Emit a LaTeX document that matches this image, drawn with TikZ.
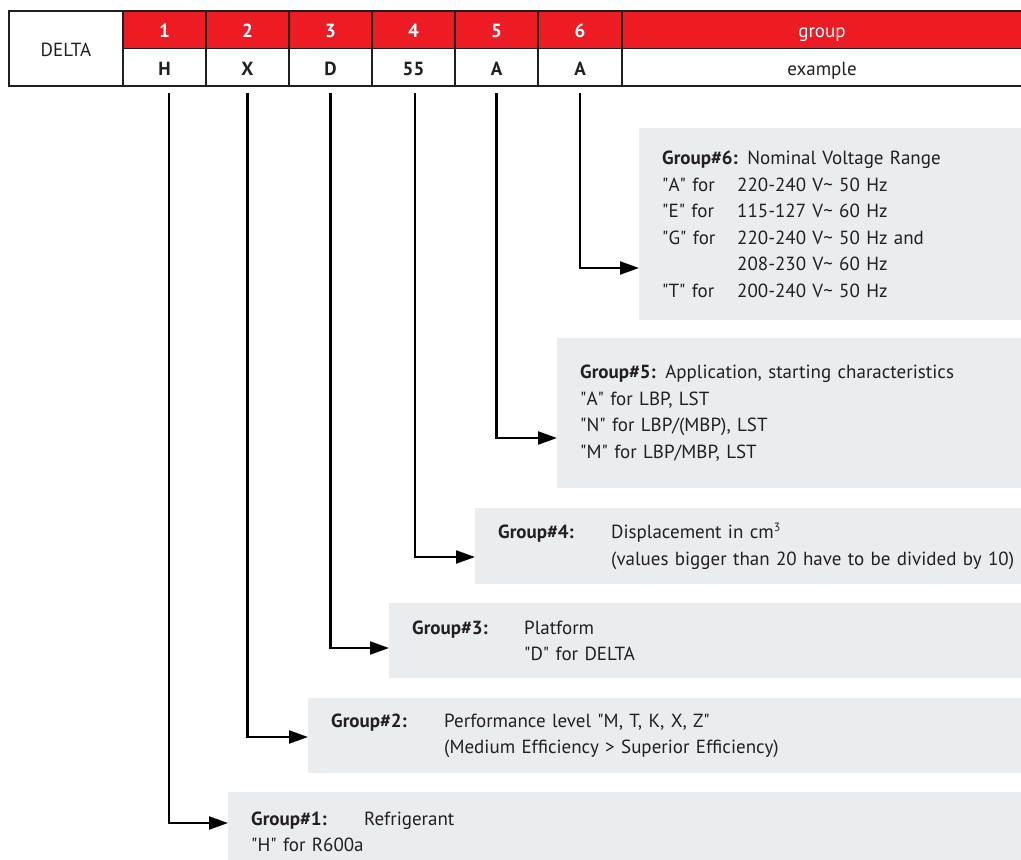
\documentclass[tikz,border=0pt]{standalone}
\usepackage{fontspec}
\setmainfont{PT Sans}
\usetikzlibrary{arrows.meta, positioning}
\definecolor{codered}{HTML}{ED1C24}
\definecolor{boxgray}{HTML}{E9EDF0}
\definecolor{ink}{HTML}{231F20}
\newcommand{\qt}[1]{\textquotedbl#1\textquotedbl}

\begin{document}
\begin{tikzpicture}[x=1pt, y=-1pt, >={Triangle[length=19pt, width=13pt]},
  txt/.style={font=\fontsize{19}{26.5}\selectfont, text=ink},
  cell/.style={txt, rectangle, draw=ink, line width=1.2pt, inner sep=0pt, outer sep=0pt, minimum width=83pt, minimum height=37.5pt, text height=16pt, text depth=0pt},
  numcell/.style={cell, fill=codered, text=white, font=\fontsize{19}{26.5}\selectfont\bfseries},
  codecell/.style={cell, font=\fontsize{19}{26.5}\selectfont\bfseries},
  groupbox/.style={txt, rectangle, fill=boxgray, anchor=north west, inner xsep=23pt, inner ysep=0pt, align=left, text width=760pt},
  conn/.style={->, line width=2.2pt, draw=black}]

\clip (0,0) rectangle (1021,860);

% header table
\node[cell, anchor=north west, minimum width=114pt, minimum height=75pt] (delta) at (9,11) {DELTA};
\node[numcell, anchor=north west] (n1) at (delta.north east) {1};
\node[numcell, right=0pt of n1] (n2) {2};
\node[numcell, right=0pt of n2] (n3) {3};
\node[numcell, right=0pt of n3] (n4) {4};
\node[numcell, right=0pt of n4] (n5) {5};
\node[numcell, right=0pt of n5, minimum width=84pt] (n6) {6};
\node[numcell, right=0pt of n6, minimum width=400pt, font=\fontsize{19}{26.5}\selectfont] (ngroup) {group};

\node[codecell, below=0pt of n1] (c1) {H};
\node[codecell, below=0pt of n2] (c2) {X};
\node[codecell, below=0pt of n3] (c3) {D};
\node[codecell, below=0pt of n4] (c4) {55};
\node[codecell, below=0pt of n5] (c5) {A};
\node[codecell, below=0pt of n6, minimum width=84pt] (c6) {A};
\node[cell, below=0pt of ngroup, minimum width=400pt] (cexample) {example};

% group boxes
\node[groupbox, minimum height=192pt] (g6) at (639,128) {{\bfseries Group\#6:} Nominal Voltage Range\\
  \makebox[75pt][l]{\qt{A} for}220-240 V\textasciitilde{} 50 Hz\\
  \makebox[75pt][l]{\qt{E} for}115-127 V\textasciitilde{} 60 Hz\\
  \makebox[75pt][l]{\qt{G} for}220-240 V\textasciitilde{} 50 Hz and\\
  \hspace*{75pt}208-230 V\textasciitilde{} 60 Hz\\
  \makebox[75pt][l]{\qt{T} for}200-240 V\textasciitilde{} 50 Hz};
\node[groupbox, minimum height=150pt] (g5) at (557,338) {{\bfseries Group\#5:} Application, starting characteristics\\
  \qt{A} for LBP, LST\\
  \qt{N} for LBP/(MBP), LST\\
  \qt{M} for LBP/MBP, LST};
\node[groupbox, minimum height=76pt] (g4) at (475,508) {\makebox[113pt][l]{\bfseries Group\#4:}Displacement in cm\raisebox{7pt}{\fontsize{12}{12}\selectfont 3}\\
  \hspace*{113pt}(values bigger than 20 have to be divided by 10)};
\node[groupbox, minimum height=75pt] (g3) at (389,603) {\makebox[112pt][l]{\bfseries Group\#3:}Platform\\
  \hspace*{112pt}\qt{D} for DELTA};
\node[groupbox, minimum height=75pt] (g2) at (308,698) {\makebox[113pt][l]{\bfseries Group\#2:}Performance level \qt{M, T, K, X, Z}\\
  \hspace*{113pt}(Medium Efficiency > Superior Efficiency)};
\node[groupbox, minimum height=79pt] (g1) at (228,792) {\makebox[113pt][l]{\bfseries Group\#1:}Refrigerant\\
  \qt{H} for R600a};

% connectors
\draw[conn] ([yshift=-7pt]c6.south) |- ([yshift=-140pt]g6.north west);
\draw[conn] ([yshift=-7pt]c5.south) |- ([yshift=-100pt]g5.north west);
\draw[conn] ([xshift=1.5pt, yshift=-7pt]c4.south) |- ([yshift=-49pt]g4.north west);
\draw[conn] ([yshift=-7pt]c3.south) |- ([yshift=-45pt]g3.north west);
\draw[conn] ([yshift=-7pt]c2.south) |- ([yshift=-39pt]g2.north west);
\draw[conn] ([xshift=4.5pt, yshift=-7pt]c1.south) |- ([yshift=-31pt]g1.north west);

\end{tikzpicture}
\end{document}
